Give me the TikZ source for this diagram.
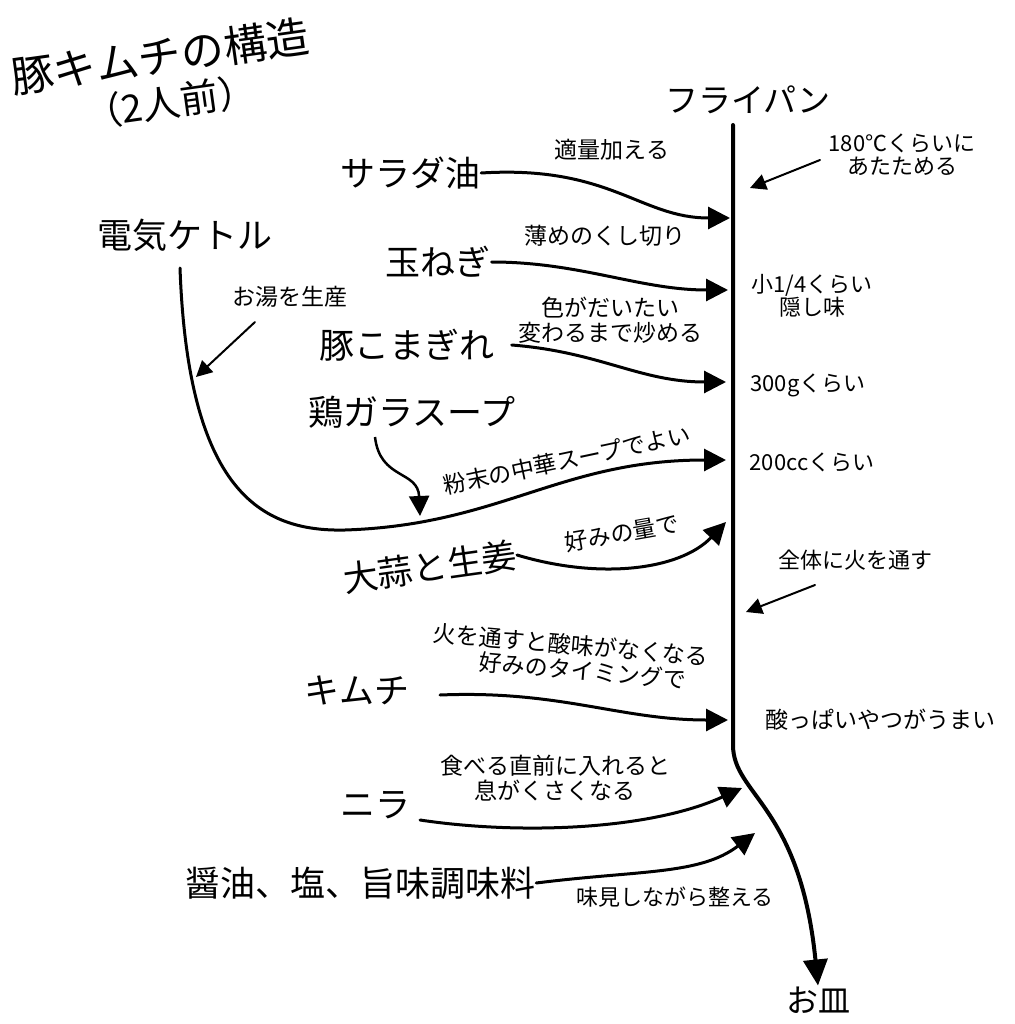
\documentclass[tikz,border=0pt]{standalone}
\usepackage{fontspec}
\setmainfont{Noto Sans CJK JP}
\usetikzlibrary{arrows.meta}
\tikzset{
  big/.style={font=\fontsize{35}{38}\selectfont, inner sep=1pt},
  mid/.style={font=\fontsize{23}{25}\selectfont, inner sep=1pt, align=center},
  note/.style={font=\fontsize{22}{23}\selectfont, inner sep=1pt, align=center},
  flow/.style={line width=3pt, -{Triangle[length=22pt,width=22pt]}, line cap=round},
  thin/.style={line width=2pt, -{Triangle[length=16pt,width=16pt]}, line cap=round},
  pan/.style={line width=4pt, -{Triangle[length=26pt,width=24pt]}, line cap=round},
}
\begin{document}
\begin{tikzpicture}[x=1pt,y=-1pt]
\useasboundingbox (0,0) rectangle (1014,1024);
\fill[white] (0,0) rectangle (1014,1024);
% title
\node[font=\fontsize{43}{46}\selectfont, rotate=8, inner sep=1pt] (title) at (160,56) {豚キムチの構造};
\node[font=\fontsize{38}{40}\selectfont, rotate=8, inner sep=1pt] (serv) at (170,102) {（2人前）};
% pan
\node[font=\fontsize{33}{36}\selectfont, inner sep=1pt] (pan) at (748,100) {フライパン};
\node[font=\fontsize{32}{35}\selectfont, inner sep=1pt] (plate) at (818,1000) {お皿};
\coordinate (ptop) at (733,125);
\draw[pan] (ptop) -- (733,745) .. controls (733,795) and (800,805) .. (plate.north);
% pan coordinates
\coordinate (p1) at (730,218);
\coordinate (p2) at (728,290);
\coordinate (p3) at (726,382);
\coordinate (p4) at (726,460);
\coordinate (p5) at (726,522);
\coordinate (p6) at (728,720);
\coordinate (p7) at (742,788);
\coordinate (p8) at (755,833);
\coordinate (h1) at (750,188);
\coordinate (h2) at (746,612);
% heat notes
\node[note] (heat) at (902,155) {180℃くらいに\\あたためる};
\draw[thin] (820,160) -- (h1);
\node[note] (whole) at (855,560) {全体に火を通す};
\draw[thin] (815,585) -- (h2);
% ingredients
\node[big] (oil) at (410,173) {サラダ油};
\node[mid] (oiln) at (612,150) {適量加える};
\draw[flow] (oil.east) .. controls (610,165) and (640,218) .. (p1);

\node[big] (onion) at (438,262) {玉ねぎ};
\node[mid] (onionn) at (605,236) {薄めのくし切り};
\draw[flow] (onion.east) .. controls (580,262) and (640,290) .. (p2);

\node[big] (pork) at (407,345) {豚こまぎれ};
\node[mid] (porkn) at (610,320) {色がだいたい\\変わるまで炒める};
\draw[flow] ([xshift=16pt]pork.east) .. controls (600,352) and (640,382) .. (p3);

\node[big] (soup) at (412,412) {鶏ガラスープ};
\node[big] (kettle) at (185,235) {電気ケトル};
\node[mid] (kettlen) at (290,297) {お湯を生産};
\coordinate (kbot) at (180,268);
\draw[flow] (kbot) .. controls (188,490) and (260,532) .. (345,530) .. controls (500,525) and (560,460) .. (p4);
\draw[thin] (255,322) -- (196,377);
\draw[line width=2.5pt, -{Triangle[length=20pt,width=20pt]}] (375,437) .. controls (380,480) and (418,470) .. (420,516);
\node[mid, rotate=12] (soupn) at (567,460) {粉末の中華スープでよい};

\node[big, rotate=8] (garlic) at (430,567) {大蒜と生姜};
\node[mid, rotate=10] (garlicn) at (622,533) {好みの量で};
\draw[flow] (517,555) .. controls (600,580) and (680,570) .. (p5);

\node[note] (smalln) at (812,296) {小1/4くらい\\隠し味};
\node[note] (g300) at (808,385) {300gくらい};
\node[note] (cc200) at (812,462) {200ccくらい};

\node[big] (kimchi) at (357,690) {キムチ};
\node[mid, rotate=-5] (kimchin) at (570,657) {火を通すと酸味がなくなる\\\hspace*{1.2em}好みのタイミングで};
\draw[flow] (440,695) .. controls (560,690) and (620,720) .. (p6);
\node[mid] (sour) at (880,720) {酸っぱいやつがうまい};

\node[big] (nira) at (375,805) {ニラ};
\node[mid] (niran) at (555,778) {食べる直前に入れると\\息がくさくなる};
\draw[flow] (420,820) .. controls (520,835) and (650,830) .. (p7);

\node[big] (soy) at (360,883) {醤油、塩、旨味調味料};
\draw[flow] (soy.east) .. controls (640,870) and (700,875) .. (p8);
\node[note] (soyn) at (675,897) {味見しながら整える};
\end{tikzpicture}
\end{document}
